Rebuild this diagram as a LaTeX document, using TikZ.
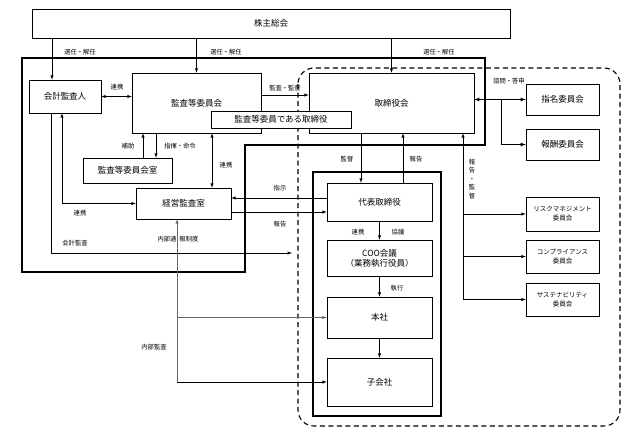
\documentclass[tikz,border=0pt]{standalone}
\usepackage{fontspec}
\setmainfont{Noto Sans CJK JP}
\usepackage{tikz}
\usetikzlibrary{calc}
\tikzstyle{orgbox} = [rectangle, draw, line width=0.5pt, fill=white, text centered, inner sep=1pt, font=\fontsize{8.5}{10}\selectfont]
\tikzstyle{cmtbox} = [rectangle, draw, line width=0.5pt, fill=white, align=center, inner sep=1pt, minimum width=73, font=\fontsize{6.5}{9}\selectfont]
\tikzstyle{connector} = [line width=0.5pt,-latex]
\tikzstyle{biconn} = [line width=0.5pt,latex-latex]
\tikzstyle{lbl} = [inner sep=1pt, font=\fontsize{6.3}{7}\selectfont]
\tikzstyle{frame} = [line width=1.5pt]

\begin{document}
\begin{tikzpicture}[x=1pt,y=-1pt]
        \useasboundingbox (0,0) rectangle (638,439);
        % frames
        \draw[frame] (22,58) -- (485,58) -- (485,145) -- (245,145) -- (245,272) -- (22,272) -- cycle;
        \draw[line width=1.1pt, dash pattern=on 5pt off 3.5pt, rounded corners=16pt] (298,68) rectangle (620,426);
        \draw[frame] (313,172) rectangle (441,416);
        % nodes
        \node (shareholders) [orgbox,minimum width=478,minimum height=29] at (271,23.5) {株主総会};
        \node (auditor) [orgbox,minimum width=72,minimum height=33] at (65,96.5) {会計監査人};
        \node (auditcom) [orgbox,minimum width=129,minimum height=60] at (196.5,103) {監査等委員会};
        \node (board) [orgbox,minimum width=165,minimum height=60] at (391.5,103) {取締役会};
        \node (auditdir) [orgbox,minimum width=140,minimum height=17] at (281,119.5) {監査等委員である取締役};
        \node (auditroom) [orgbox,minimum width=89,minimum height=25] at (127.5,170.5) {監査等委員会室};
        \node (mgmtaudit) [orgbox,minimum width=95,minimum height=31] at (183.5,203.5) {経営監査室};
        \node (ceo) [orgbox,minimum width=105,minimum height=38] at (379.5,202) {代表取締役};
        \node (coo) [orgbox,align=center,minimum width=105,minimum height=36] at (379.5,258) {COO会議\\（業務執行役員）};
        \node (hq) [orgbox,minimum width=105,minimum height=41] at (379.5,317.5) {本社};
        \node (subs) [orgbox,minimum width=105,minimum height=48] at (379.5,382) {子会社};
        \node (nomcom) [orgbox,minimum width=73,minimum height=31] at (562.5,99.5) {指名委員会};
        \node (remcom) [orgbox,minimum width=73,minimum height=31] at (562.5,144.5) {報酬委員会};
        \node (riskcom) [cmtbox,minimum height=34] at (562.5,214) {リスクマネジメント\\委員会};
        \node (compcom) [cmtbox,minimum height=33] at (562.5,256.5) {コンプライアンス\\委員会};
        \node (suscom) [cmtbox,minimum height=33] at (562.5,299.5) {サステナビリティ\\委員会};
        % branch points
        \coordinate (selA) at ([xshift=-13pt]auditor.north);
        \coordinate (aidA) at ([xshift=15.5pt]auditroom.north);
        \coordinate (cmdA) at ([xshift=28.5pt]auditroom.north);
        \coordinate (coopA) at ([xshift=28.5pt]mgmtaudit.north);
        \coordinate (accA) at ([xshift=-14pt]auditor.south);
        \coordinate (accEnd) at (292,253);
        \coordinate (supvA) at ([xshift=-18.5pt]ceo.north);
        \coordinate (rptA) at ([xshift=23.5pt]ceo.north);
        \coordinate (rptB) at ([xshift=71.5pt]board.south);
        \coordinate (cons) at ([xshift=-24pt]nomcom.west);
        \coordinate (whis) at ([xshift=-6.5pt]mgmtaudit.south);
        % connectors
        \draw [connector] (selA |- shareholders.south) -- (selA);
        \draw [connector] (shareholders.south -| auditcom.north) -- (auditcom.north);
        \draw [connector] (shareholders.south -| board.north) -- (board.north);
        \draw [biconn] (auditor.east) -- (auditor.east -| auditcom.west);
        \draw [connector] ([yshift=8pt]auditcom.east) -- ([yshift=8pt]auditcom.east -| board.west);
        \draw [connector] (aidA) -- (aidA |- auditcom.south);
        \draw [connector] (cmdA |- auditcom.south) -- (cmdA);
        \draw [biconn] (coopA |- auditcom.south) -- (coopA);
        \draw [biconn] ([xshift=-3pt]auditor.south) |- (mgmtaudit.west);
        \draw [connector] (accA) |- (accEnd);
        \draw [connector] (supvA |- board.south) -- (supvA);
        \draw [connector] (rptA) -- (rptA |- board.south);
        \draw [connector] (rptB |- suscom.west) -- (rptB);
        \draw [connector] (rptB |- riskcom.west) -- (riskcom.west);
        \draw [connector] (rptB |- compcom.west) -- (compcom.west);
        \draw [connector] (rptB |- suscom.west) -- (suscom.west);
        \draw [biconn,line width=0.8pt] (board.east |- nomcom.west) -- (nomcom.west);
        \draw [connector,line width=0.8pt] (cons) |- (remcom.west);
        \draw [connector] ([yshift=4pt]ceo.west) -- ([yshift=4pt]ceo.west -| mgmtaudit.east);
        \draw [connector] ([yshift=-10pt]ceo.west -| mgmtaudit.east) -- ([yshift=-10pt]ceo.west);
        \draw [connector] (ceo.south) -- (coo.north);
        \draw [connector] (coo.south) -- (hq.north);
        \draw [connector] (hq.south) -- (subs.north);
        \draw [connector,black!60] (whis |- subs.west) -- (whis);
        \draw [connector,black!60] (whis |- hq.west) -- (hq.west);
        \draw [connector] (whis |- subs.west) -- (subs.west);
        % labels
        \node (lblSelA) [lbl] at (80,52) {選任・解任};
        \node (lblSelB) [lbl] at (226,52) {選任・解任};
        \node (lblSelC) [lbl] at (439,52) {選任・解任};
        \node (lblCoopA) [lbl] at (117,87) {連携};
        \node (lblAudit) [lbl] at (285,88) {監査・監督};
        \node (lblAid) [lbl] at (128,146) {補助};
        \node (lblCmd) [lbl] at (180,146) {指揮・命令};
        \node (lblCoopB) [lbl] at (226,165) {連携};
        \node (lblCoopC) [lbl] at (80,213) {連携};
        \node (lblAcc) [lbl] at (75,243) {会計監査};
        \node (lblSupv) [lbl] at (347,159) {監督};
        \node (lblRptA) [lbl] at (416,159) {報告};
        \node (lblRptB) [lbl,align=center,font=\fontsize{6.3}{8.4}\selectfont] at (472,179) {報\\告\\・\\監\\督};
        \node (lblCons) [lbl] at (509,81) {諮問・答申};
        \node (lblInstr) [lbl] at (280,188) {指示};
        \node (lblRptC) [lbl] at (280,224) {報告};
        \node (lblCoopD) [lbl] at (358,232) {連携};
        \node (lblDisc) [lbl] at (398,232) {協議};
        \node (lblExec) [lbl] at (397,288) {執行};
        \node (lblWhis) [lbl] at (178,239) {内部通\hspace{3pt}報制度};
        \node (lblInt) [lbl] at (154,347) {内部監査};
    \end{tikzpicture}
\end{document}
